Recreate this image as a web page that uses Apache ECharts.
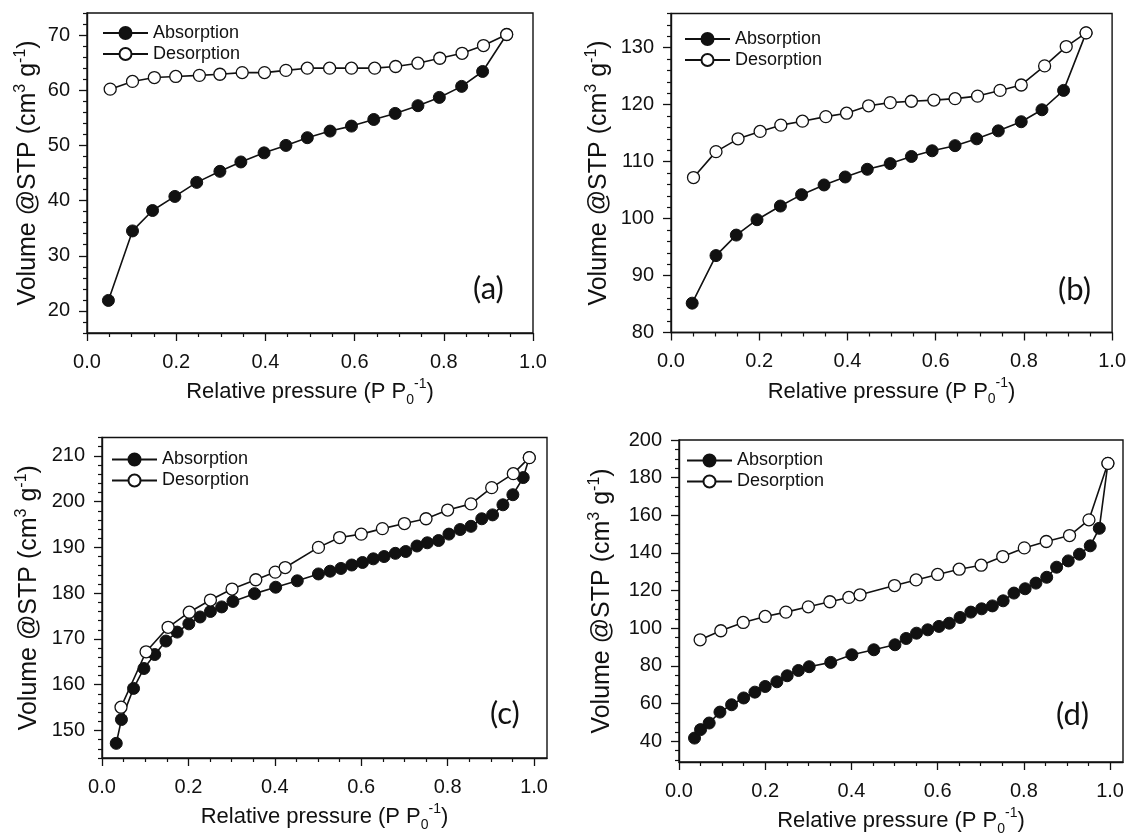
<!DOCTYPE html>
<html>
<head>
<meta charset="utf-8">
<script src="https://cdn.jsdelivr.net/npm/echarts@6/dist/echarts.min.js"></script>
<style>
  html, body { margin: 0; padding: 0; background: #ffffff; }
  #chart { width: 1129px; height: 837px; }
</style>
</head>
<body>
<div id="chart"></div>
<script>
// N2 sorption isotherms: relative pressure (P/P0) vs adsorbed volume (cm3 g-1 at STP)

// ---- sample (a)
const pA_abs = [0.048, 0.102, 0.147, 0.197, 0.246, 0.298, 0.345, 0.397, 0.446, 0.494, 0.545, 0.593, 0.643, 0.691, 0.742, 0.790, 0.840, 0.887, 0.941];
const vA_abs = [21.9, 34.5, 38.2, 40.75, 43.3, 45.3, 47.0, 48.65, 50.0, 51.4, 52.6, 53.5, 54.7, 55.8, 57.2, 58.7, 60.7, 63.4, 70.1];
const pA_des = [0.052, 0.102, 0.151, 0.199, 0.252, 0.298, 0.348, 0.398, 0.446, 0.494, 0.544, 0.593, 0.645, 0.692, 0.742, 0.791, 0.841, 0.889, 0.941];
const vA_des = [60.2, 61.6, 62.3, 62.5, 62.7, 62.9, 63.2, 63.2, 63.6, 64.0, 64.0, 64.0, 64.0, 64.3, 64.9, 65.8, 66.7, 68.1, 70.1];

// ---- sample (b)
const pB_abs = [0.048, 0.102, 0.148, 0.195, 0.248, 0.296, 0.347, 0.395, 0.445, 0.497, 0.545, 0.592, 0.644, 0.693, 0.742, 0.794, 0.841, 0.890, 0.941];
const vB_abs = [85.15, 93.5, 97.1, 99.8, 102.2, 104.2, 105.9, 107.3, 108.65, 109.65, 110.9, 111.9, 112.8, 114.0, 115.4, 117.0, 119.1, 122.5, 132.6];
const pB_des = [0.051, 0.102, 0.152, 0.202, 0.249, 0.298, 0.351, 0.398, 0.448, 0.497, 0.545, 0.596, 0.644, 0.695, 0.746, 0.794, 0.847, 0.896, 0.941];
const vB_des = [107.2, 111.75, 114.0, 115.3, 116.4, 117.1, 117.9, 118.5, 119.8, 120.35, 120.6, 120.8, 121.05, 121.5, 122.5, 123.45, 126.8, 130.2, 132.6];

// ---- sample (c)
const pC_abs = [0.033, 0.045, 0.073, 0.097, 0.122, 0.148, 0.174, 0.201, 0.227, 0.251, 0.277, 0.303, 0.353, 0.402, 0.452, 0.501, 0.528, 0.553, 0.578, 0.603, 0.628, 0.653, 0.679, 0.703, 0.729, 0.753, 0.779, 0.803, 0.829, 0.854, 0.879, 0.904, 0.928, 0.951, 0.975, 0.989];
const vC_abs = [147.2, 152.4, 159.2, 163.55, 166.6, 169.55, 171.5, 173.3, 174.8, 176.0, 177.0, 178.2, 179.9, 181.3, 182.7, 184.2, 184.8, 185.4, 186.15, 186.7, 187.5, 188.0, 188.7, 189.1, 190.3, 191.0, 191.5, 192.9, 193.9, 194.6, 196.25, 197.1, 199.3, 201.5, 205.25, 209.6];
const pC_des = [0.044, 0.102, 0.153, 0.202, 0.251, 0.301, 0.356, 0.401, 0.424, 0.501, 0.550, 0.600, 0.649, 0.700, 0.750, 0.800, 0.854, 0.902, 0.952, 0.989];
const vC_des = [155.1, 167.2, 172.55, 175.84, 178.5, 180.9, 182.93, 184.6, 185.6, 190.0, 192.15, 192.9, 194.1, 195.2, 196.25, 198.15, 199.5, 203.05, 206.1, 209.6];

// ---- sample (d)
const pD_abs = [0.036, 0.050, 0.070, 0.095, 0.122, 0.150, 0.176, 0.200, 0.227, 0.251, 0.277, 0.302, 0.352, 0.401, 0.452, 0.501, 0.527, 0.551, 0.577, 0.603, 0.627, 0.652, 0.677, 0.702, 0.727, 0.752, 0.777, 0.803, 0.828, 0.853, 0.876, 0.903, 0.929, 0.954, 0.975, 0.995];
const vD_abs = [41.7, 46.2, 49.7, 55.5, 59.4, 63.0, 66.1, 69.1, 71.6, 74.8, 77.6, 79.6, 81.9, 85.95, 88.6, 91.25, 94.6, 97.4, 99.2, 101.0, 102.7, 105.75, 108.6, 110.35, 111.9, 114.6, 118.7, 121.0, 124.0, 127.1, 132.45, 135.8, 139.35, 143.8, 153.1, 187.6];
const pD_des = [0.049, 0.097, 0.149, 0.200, 0.248, 0.300, 0.350, 0.394, 0.420, 0.500, 0.550, 0.600, 0.650, 0.701, 0.751, 0.801, 0.852, 0.906, 0.951, 0.995];
const vD_des = [93.9, 98.7, 103.1, 106.3, 108.6, 111.4, 114.1, 116.4, 117.8, 122.7, 125.7, 128.6, 131.4, 133.5, 138.1, 142.7, 146.1, 149.25, 157.6, 187.6];

// ---- tick labels
const xTicks = [0, 0.2, 0.4, 0.6, 0.8, 1.0];
const yTicksA = [20, 30, 40, 50, 60, 70];
const yTicksB = [80, 90, 100, 110, 120, 130];
const yTicksC = [150, 160, 170, 180, 190, 200, 210];
const yTicksD = [40, 60, 80, 100, 120, 140, 160, 180, 200];

const seriesNames = ['Absorption', 'Desorption'];
const panelTags = ['(a)', '(b)', '(c)', '(d)'];

// ---- layout of the four panels (pixels)
const panels = [
  { grid: { left: 87, top: 13, width: 446, height: 320 }, xMax: 1.0, yMin: 16, yMax: 74, yTicks: yTicksA, yMinorStep: 2,
    abs: [pA_abs, vA_abs], des: [pA_des, vA_des], yGap: 44, legend: { left: 102, top: 24 }, tag: { left: 473, top: 273 } },
  { grid: { left: 671, top: 13.5, width: 445, height: 319 }, xMax: 1.0, yMin: 80, yMax: 136, yTicks: yTicksB, yMinorStep: 2,
    abs: [pB_abs, vB_abs], des: [pB_des, vB_des], yGap: 57, legend: { left: 684, top: 30 }, tag: { left: 1058, top: 274 } },
  { grid: { left: 102, top: 437.5, width: 445, height: 320.5 }, xMax: 1.03, yMin: 144, yMax: 214, yTicks: yTicksC, yMinorStep: 2,
    abs: [pC_abs, vC_abs], des: [pC_des, vC_des], yGap: 58, legend: { left: 111, top: 450.5 }, tag: { left: 490, top: 698 } },
  { grid: { left: 679, top: 440, width: 444, height: 322.5 }, xMax: 1.03, yMin: 29, yMax: 200, yTicks: yTicksD, yMinorStep: 5,
    abs: [pD_abs, vD_abs], des: [pD_des, vD_des], yGap: 62, legend: { left: 686, top: 451.5 }, tag: { left: 1056, top: 699 } }
];

const INK = '#111111';
const AXIS_FONT = 'Liberation Sans, Arial, sans-serif';

function minorTicks(min, max, step, majors) {
  const out = [];
  for (let k = Math.ceil(min / step - 1e-9); k * step <= max + 1e-9; k++) {
    const v = +(k * step).toFixed(4);
    if (!majors.some(m => Math.abs(m - v) < 1e-6)) out.push(v);
  }
  return out;
}

function pairs(xs, ys) {
  return xs.map((x, i) => [x, ys[i]]);
}

function nameStyle(size, supSize, lh) {
  return {
    fontSize: size, lineHeight: lh, fontFamily: AXIS_FONT, color: INK,
    rich: {
      sup: { fontSize: supSize, verticalAlign: 'top', lineHeight: lh, fontFamily: AXIS_FONT, color: INK },
      sub: { fontSize: supSize, verticalAlign: 'bottom', lineHeight: lh, fontFamily: AXIS_FONT, color: INK }
    }
  };
}

const grids = [], xAxes = [], yAxes = [], series = [], legends = [], titles = [];

panels.forEach((p, i) => {
  grids.push(Object.assign({ show: true, borderColor: INK, borderWidth: 1.4, backgroundColor: 'transparent' }, p.grid));

  const xMinor = minorTicks(0, p.xMax, 0.05, xTicks);
  const yMinor = minorTicks(p.yMin, p.yMax, p.yMinorStep, p.yTicks);

  xAxes.push({
    type: 'value', gridIndex: i, min: 0, max: p.xMax, position: 'bottom',
    axisLine: { show: true, onZero: false, lineStyle: { color: INK, width: 1.4 } },
    axisTick: { show: true, inside: false, length: 8, customValues: xTicks, lineStyle: { color: INK, width: 1.3 } },
    axisLabel: { show: true, customValues: xTicks, formatter: v => v.toFixed(1), margin: 19,
                 fontSize: 20, color: INK, fontFamily: AXIS_FONT },
    splitLine: { show: false },
    name: 'Relative pressure (P P{sub|0}{sup|-1})', nameLocation: 'middle', nameGap: 44,
    nameTextStyle: nameStyle(22, 14, 30)
  });
  xAxes.push({
    type: 'value', gridIndex: i, min: 0, max: p.xMax, position: 'bottom',
    axisLine: { show: false, onZero: false },
    axisTick: { show: true, inside: false, length: 4, customValues: xMinor, lineStyle: { color: INK, width: 1.2 } },
    axisLabel: { show: false }, splitLine: { show: false }
  });

  yAxes.push({
    type: 'value', gridIndex: i, min: p.yMin, max: p.yMax, position: 'left',
    axisLine: { show: true, onZero: false, lineStyle: { color: INK, width: 1.4 } },
    axisTick: { show: true, inside: false, length: 8, customValues: p.yTicks, lineStyle: { color: INK, width: 1.3 } },
    axisLabel: { show: true, customValues: p.yTicks, margin: 17, fontSize: 20, color: INK, fontFamily: AXIS_FONT },
    splitLine: { show: false },
    name: 'Volume @STP (cm{sup|3} g{sup|-1})', nameLocation: 'middle', nameGap: p.yGap,
    nameTextStyle: nameStyle(25, 16, 30)
  });
  yAxes.push({
    type: 'value', gridIndex: i, min: p.yMin, max: p.yMax, position: 'left',
    axisLine: { show: false, onZero: false },
    axisTick: { show: true, inside: false, length: 4, customValues: yMinor, lineStyle: { color: INK, width: 1.2 } },
    axisLabel: { show: false }, splitLine: { show: false }
  });

  series.push({
    type: 'line', name: seriesNames[0], xAxisIndex: 2 * i, yAxisIndex: 2 * i,
    data: pairs(p.abs[0], p.abs[1]),
    symbol: 'circle', symbolSize: 12, showAllSymbol: true,
    lineStyle: { color: INK, width: 1.6 },
    itemStyle: { color: INK, borderColor: INK, borderWidth: 1 },
    z: 2, silent: true, animation: false
  });
  series.push({
    type: 'line', name: seriesNames[1], xAxisIndex: 2 * i, yAxisIndex: 2 * i,
    data: pairs(p.des[0], p.des[1]),
    symbol: 'circle', symbolSize: 12, showAllSymbol: true,
    lineStyle: { color: INK, width: 1.6 },
    itemStyle: { color: '#ffffff', borderColor: INK, borderWidth: 1.3 },
    z: 3, silent: true, animation: false
  });

  legends.push({
    data: seriesNames, orient: 'vertical', left: p.legend.left, top: p.legend.top,
    padding: 0, itemGap: 3, itemWidth: 45, itemHeight: 15, selectedMode: false,
    textStyle: { fontSize: 18, color: INK, fontFamily: AXIS_FONT }
  });

  titles.push({
    text: panelTags[i], left: p.tag.left, top: p.tag.top, padding: 0,
    textStyle: { fontFamily: 'Lato, sans-serif', fontSize: 31, fontWeight: 'normal', color: INK }
  });
});

const chart = echarts.init(document.getElementById('chart'), null, { renderer: 'canvas' });
chart.setOption({
  backgroundColor: '#ffffff',
  animation: false,
  title: titles,
  legend: legends,
  grid: grids,
  xAxis: xAxes,
  yAxis: yAxes,
  series: series
});
</script>
</body>
</html>
